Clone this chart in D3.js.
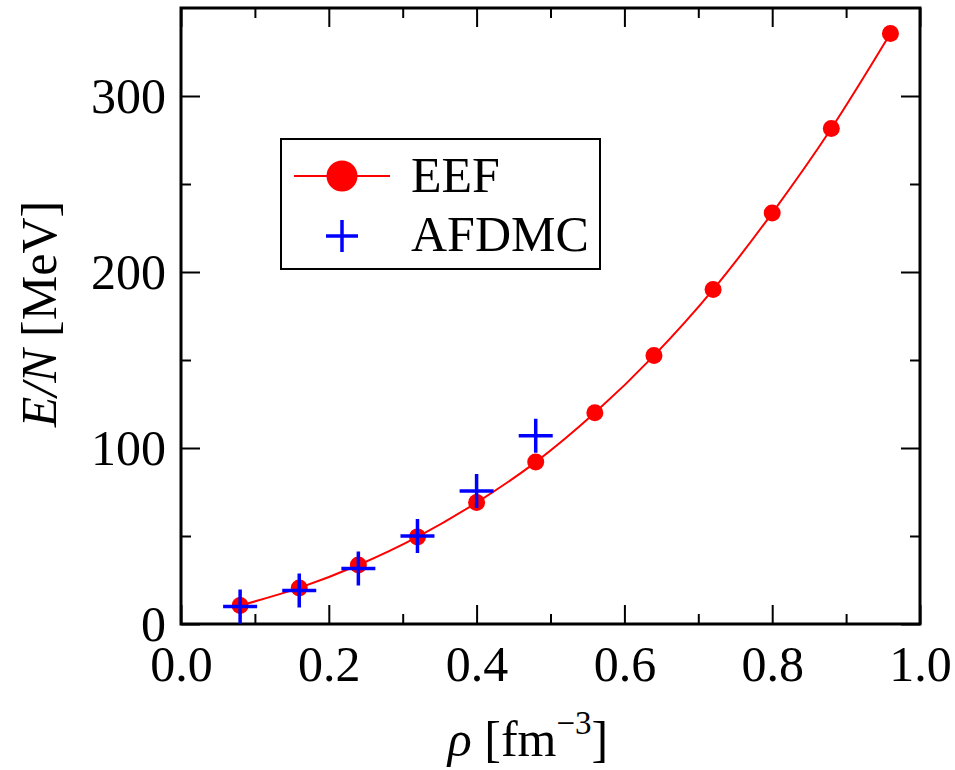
<!DOCTYPE html>
<html>
<head>
<meta charset="utf-8">
<script src="https://cdn.jsdelivr.net/npm/d3@7"></script>
<style>
  body { margin: 0; background: #fff; }
  text { font-family: "Liberation Serif", "Times New Roman", serif; }
</style>
</head>
<body>
<div id="chart"></div>
<script>
// density values (fm^-3)
const eefRho = [0.08, 0.16, 0.24, 0.32, 0.40, 0.48, 0.56, 0.64, 0.72, 0.80, 0.88, 0.96];
const eefEnergy = [10.5, 20.5, 33.5, 49.5, 69, 92, 120, 152.5, 190, 233.5, 281.5, 335.5];
const afdmcRho = [0.08, 0.16, 0.24, 0.32, 0.40, 0.48];
const afdmcEnergy = [10, 19, 31.5, 50, 75.5, 107];
const xTicks = [0, 0.2, 0.4, 0.6, 0.8, 1.0];
const yTicks = [0, 100, 200, 300];

let margin = { top: 8, left: 181, right: 35, bottom: 146 },
  width = 955 - margin.left - margin.right,
  height = 770 - margin.top - margin.bottom;

let svg = d3.select('#chart')
  .append('svg')
  .attr('width', 955)
  .attr('height', 770);

let g = svg.append('g').attr('transform', 'translate(' + margin.left + ',' + margin.top + ')');

let xScale = d3.scaleLinear().domain([0, 1]).range([0, width]);
let yScale = d3.scaleLinear().domain([0, 350]).range([height, 0]);

// ticks pointing inwards on all four sides
const majorLen = 19, minorLen = 10;
const xMinor = d3.range(0.1, 1, 0.2);
const yMinor = d3.range(50, 350, 100);
const fs = 50;

function addAxis(axis, transform) {
  let a = g.append('g').attr('transform', transform).call(axis);
  a.select('.domain').remove();
  a.selectAll('line').attr('stroke', '#000').attr('stroke-width', 2);
  return a;
}

// bottom
let xb = addAxis(d3.axisBottom(xScale).tickValues(xTicks).tickSize(-majorLen).tickPadding(21)
  .tickFormat(d3.format('.1f')), 'translate(0,' + height + ')');
xb.selectAll('text').attr('font-size', fs).attr('fill', '#000');
addAxis(d3.axisBottom(xScale).tickValues(xMinor).tickSize(-minorLen).tickFormat(''), 'translate(0,' + height + ')');
// top
addAxis(d3.axisTop(xScale).tickValues(xTicks).tickSize(-majorLen).tickFormat(''), 'translate(0,0)');
addAxis(d3.axisTop(xScale).tickValues(xMinor).tickSize(-minorLen).tickFormat(''), 'translate(0,0)');
// left
let yl = addAxis(d3.axisLeft(yScale).tickValues(yTicks).tickSize(-majorLen).tickPadding(15), 'translate(0,0)');
yl.selectAll('text').attr('font-size', fs).attr('fill', '#000');
addAxis(d3.axisLeft(yScale).tickValues(yMinor).tickSize(-minorLen).tickFormat(''), 'translate(0,0)');
// right
addAxis(d3.axisRight(yScale).tickValues(yTicks).tickSize(-majorLen).tickFormat(''), 'translate(' + width + ',0)');
addAxis(d3.axisRight(yScale).tickValues(yMinor).tickSize(-minorLen).tickFormat(''), 'translate(' + width + ',0)');

// frame
g.append('rect')
  .attr('width', width).attr('height', height)
  .attr('fill', 'none').attr('stroke', '#000').attr('stroke-width', 3);

// EEF curve
let line = d3.line()
  .x(function(d, i) { return xScale(eefRho[i]); })
  .y(function(d) { return yScale(d); })
  .curve(d3.curveMonotoneX);

g.append('path')
  .datum(eefEnergy)
  .attr('d', line)
  .attr('fill', 'none')
  .attr('stroke', '#ff0000')
  .attr('stroke-width', 2);

g.selectAll('.eef')
  .data(eefEnergy)
  .enter().append('circle')
  .attr('class', 'eef')
  .attr('cx', function(d, i) { return xScale(eefRho[i]); })
  .attr('cy', function(d) { return yScale(d); })
  .attr('r', 8.5)
  .attr('fill', '#ff0000');

// AFDMC crosses
const cs = 17;
let crosses = g.selectAll('.afdmc')
  .data(afdmcEnergy)
  .enter().append('g')
  .attr('class', 'afdmc')
  .attr('transform', function(d, i) { return 'translate(' + xScale(afdmcRho[i]) + ',' + yScale(d) + ')'; });
crosses.append('path')
  .attr('d', 'M' + (-cs) + ',0H' + cs + 'M0,' + (-cs) + 'V' + cs)
  .attr('stroke', '#0000ff')
  .attr('stroke-width', 3.5)
  .attr('fill', 'none');

// legend
let leg = svg.append('g');
leg.append('rect')
  .attr('x', 281).attr('y', 139).attr('width', 319).attr('height', 130)
  .attr('fill', '#fff').attr('stroke', '#000').attr('stroke-width', 2);
leg.append('line')
  .attr('x1', 294).attr('x2', 390).attr('y1', 176).attr('y2', 176)
  .attr('stroke', '#ff0000').attr('stroke-width', 2);
leg.append('circle').attr('cx', 342).attr('cy', 176).attr('r', 15.5).attr('fill', '#ff0000');
leg.append('path')
  .attr('d', 'M326,236H358M342,220V252')
  .attr('stroke', '#0000ff').attr('stroke-width', 3.5);
leg.append('text').attr('x', 411).attr('y', 192).attr('font-size', fs).text('EEF');
leg.append('text').attr('x', 411).attr('y', 251).attr('font-size', fs).text('AFDMC');

// axis labels
let xl = svg.append('text')
  .attr('x', 528).attr('y', 756)
  .attr('text-anchor', 'middle')
  .attr('font-size', fs);
xl.append('tspan').attr('font-style', 'italic').text('ρ');
xl.append('tspan').text(' [fm');
xl.append('tspan').attr('font-size', 33).attr('dy', -22).text('−3');
xl.append('tspan').attr('dy', 22).text(']');

let ylab = svg.append('text')
  .attr('transform', 'translate(56,314) rotate(-90)')
  .attr('text-anchor', 'middle')
  .attr('font-size', fs);
ylab.append('tspan').attr('font-style', 'italic').text('E/N');
ylab.append('tspan').text(' [MeV]');
</script>
</body>
</html>
